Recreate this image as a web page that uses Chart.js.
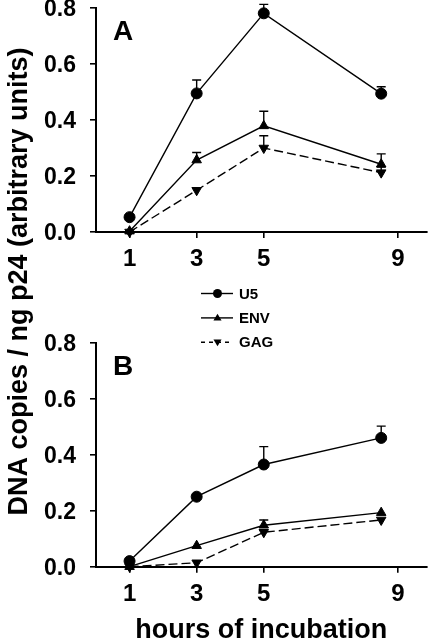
<!DOCTYPE html>
<html><head><meta charset="utf-8">
<script src="https://cdn.jsdelivr.net/npm/chart.js@4.4.1/dist/chart.umd.min.js"></script>
<style>
html,body{margin:0;padding:0;background:#fff;}
#wrap{position:relative;width:433px;height:643px;overflow:hidden;}
canvas{position:absolute;left:0;top:0;}
</style></head><body>
<div id="wrap"><canvas id="cA" width="433" height="643"></canvas><canvas id="cB" width="433" height="643"></canvas></div>
<script>
// ---- data ----
const hours = [1, 3, 5, 8.5];
const xTickValues = [1, 3, 5, 9];
const yTickValues = [0, 0.2, 0.4, 0.6, 0.8];
const seriesNames = ['U5', 'ENV', 'GAG'];
const yAxisTitle = 'DNA copies / ng p24 (arbitrary units)';
const xAxisTitle = 'hours of incubation';

const panelA_U5  = [0.053, 0.495, 0.781, 0.494];
const panelA_ENV = [0.003, 0.257, 0.379, 0.242];
const panelA_GAG = [0.000, 0.149, 0.300, 0.212];
const panelA_U5_err  = [0, 0.048, 0.032, 0.025];
const panelA_ENV_err = [0, 0.027, 0.052, 0.037];
const panelA_GAG_err = [0, 0, 0.044, 0.02];

const panelB_U5  = [0.020, 0.250, 0.365, 0.460];
const panelB_ENV = [0.000, 0.075, 0.148, 0.193];
const panelB_GAG = [0.000, 0.014, 0.123, 0.167];
const panelB_U5_err  = [0, 0, 0.064, 0.042];
const panelB_ENV_err = [0, 0, 0.019, 0];
const panelB_GAG_err = [0, 0, 0, 0];

// ---- styles ----
const FONT = "'Liberation Sans', Arial, Helvetica, sans-serif";
const styles = {
  U5:  {pointStyle: 'circle',   rotation: 0,   radius: 5.5, dash: []},
  ENV: {pointStyle: 'triangle', rotation: 0,   radius: 5.5, dash: []},
  GAG: {pointStyle: 'triangle', rotation: 180, radius: 5.5, dash: [9, 4]}
};

function makeDatasets(values, errs) {
  return seriesNames.map((name, k) => ({
    label: name,
    data: hours.map((h, i) => ({x: h, y: values[k][i]})),
    errors: errs[k],
    borderColor: '#000',
    backgroundColor: '#000',
    borderWidth: 1.4,
    borderDash: styles[name].dash,
    pointStyle: styles[name].pointStyle,
    pointRotation: styles[name].rotation,
    pointRadius: styles[name].radius,
    pointBorderWidth: 1,
    pointBackgroundColor: '#000',
    pointBorderColor: '#000',
    tension: 0,
    fill: false,
    clip: false
  }));
}

const errorBarPlugin = {
  id: 'errorBars',
  beforeDatasetsDraw(chart) {
    const ctx = chart.ctx;
    const xs = chart.scales.x, ys = chart.scales.y;
    ctx.save();
    ctx.strokeStyle = '#000';
    ctx.lineWidth = 1.4;
    chart.data.datasets.forEach(ds => {
      ds.data.forEach((p, i) => {
        const e = ds.errors[i];
        if (!e) return;
        const px = xs.getPixelForValue(p.x);
        const py = ys.getPixelForValue(p.y);
        const pt = ys.getPixelForValue(p.y + e);
        ctx.beginPath();
        ctx.moveTo(px, py); ctx.lineTo(px, pt);
        ctx.moveTo(px - 4.5, pt); ctx.lineTo(px + 4.5, pt);
        ctx.stroke();
      });
    });
    ctx.restore();
  }
};

const panelLabelPlugin = {
  id: 'panelLabel',
  afterDraw(chart, args, opts) {
    const ctx = chart.ctx, a = chart.chartArea;
    ctx.save();
    ctx.fillStyle = '#000';
    ctx.font = 'bold 28px ' + FONT;
    ctx.textAlign = 'center';
    ctx.textBaseline = 'alphabetic';
    ctx.fillText(opts.text, a.left + 27, a.top + 32);
    ctx.restore();
  }
};

function drawMarker(ctx, style, x, y, r) {
  ctx.beginPath();
  if (style.pointStyle === 'circle') {
    ctx.arc(x, y, r, 0, Math.PI * 2);
  } else {
    const dir = style.rotation === 180 ? -1 : 1;
    const h = r * 1.5;
    ctx.moveTo(x, y - dir * h * 0.6);
    ctx.lineTo(x - r * 0.9, y + dir * h * 0.4);
    ctx.lineTo(x + r * 0.9, y + dir * h * 0.4);
    ctx.closePath();
  }
  ctx.fill();
}

const legendPlugin = {
  id: 'seriesLegend',
  afterDraw(chart, args, opts) {
    if (!opts.show) return;
    const ctx = chart.ctx;
    const a = chart.chartArea;
    ctx.save();
    ctx.fillStyle = '#000';
    ctx.strokeStyle = '#000';
    ctx.lineWidth = 1.4;
    ctx.font = 'bold 15px ' + FONT;
    ctx.textBaseline = 'middle';
    ctx.textAlign = 'left';
    const x0 = 201, x1 = 233, xm = 217.5;
    seriesNames.forEach((name, k) => {
      const y = a.bottom + 61.5 + k * 24.4;
      const st = styles[name];
      ctx.setLineDash(name === 'GAG' ? [4, 4] : []);
      ctx.beginPath(); ctx.moveTo(x0, y); ctx.lineTo(x1, y); ctx.stroke();
      ctx.setLineDash([]);
      drawMarker(ctx, st, xm, y, 4.5);
      ctx.fillText(name, 239, y + 1);
    });
    ctx.restore();
  }
};

const yTitlePlugin = {
  id: 'yTitle',
  afterDraw(chart, args, opts) {
    if (!opts.show) return;
    const ctx = chart.ctx;
    ctx.save();
    ctx.fillStyle = '#000';
    ctx.font = 'bold 27px ' + FONT;
    ctx.textAlign = 'center';
    ctx.textBaseline = 'alphabetic';
    ctx.translate(27, 281.5);
    ctx.rotate(-Math.PI / 2);
    ctx.fillText(yAxisTitle, 0, 0);
    ctx.restore();
  }
};

function makeScales(xHeight, showXTitle) {
  return {
    x: {
      type: 'linear', min: 0, max: 9.85,
      afterBuildTicks: s => { s.ticks = xTickValues.map(v => ({value: v})); },
      grid: {drawOnChartArea: false, drawTicks: true, tickLength: 6, color: '#000', lineWidth: 1.6},
      border: {display: true, color: '#000', width: 2},
      ticks: {color: '#000', font: {family: FONT, size: 24, weight: 'bold'}, padding: 7,
              maxRotation: 0, autoSkip: false, callback: v => String(v)},
      title: {display: showXTitle, text: xAxisTitle, color: '#000',
              font: {family: FONT, size: 27, weight: 'bold', lineHeight: 0.9}, padding: 0},
      afterFit: s => { s.height = xHeight; s.paddingLeft = 0; s.paddingRight = 0; }
    },
    y: {
      type: 'linear', min: 0, max: 0.8,
      afterBuildTicks: s => { s.ticks = yTickValues.map(v => ({value: v})); },
      grid: {drawOnChartArea: false, drawTicks: true, tickLength: 6, color: '#000', lineWidth: 1.6},
      border: {display: true, color: '#000', width: 2},
      ticks: {color: '#000', font: {family: FONT, size: 23, weight: 'bold'}, padding: 14, labelOffset: 1.5,
              callback: v => Number(v).toFixed(1)},
      afterFit: s => { s.width = 96; s.paddingTop = 0; s.paddingBottom = 0; }
    }
  };
}

function makeChart(id, values, errs, label, pad, xHeight, showXTitle, showLegend, showYTitle) {
  return new Chart(document.getElementById(id), {
    type: 'line',
    data: {datasets: makeDatasets(values, errs)},
    options: {
      responsive: false, animation: false, devicePixelRatio: 1, events: [],
      layout: {padding: pad},
      scales: makeScales(xHeight, showXTitle),
      plugins: {
        legend: {display: false}, tooltip: {enabled: false}, title: {display: false},
        panelLabel: {text: label},
        seriesLegend: {show: showLegend},
        yTitle: {show: showYTitle}
      }
    },
    plugins: [errorBarPlugin, panelLabelPlugin, legendPlugin, yTitlePlugin]
  });
}

makeChart('cA', [panelA_U5, panelA_ENV, panelA_GAG], [panelA_U5_err, panelA_ENV_err, panelA_GAG_err],
  'A', {left: 0, top: 8, right: 5, bottom: 643 - 232 - 45}, 45, false, true, true);
makeChart('cB', [panelB_U5, panelB_ENV, panelB_GAG], [panelB_U5_err, panelB_ENV_err, panelB_GAG_err],
  'B', {left: 0, top: 342.7, right: 5, bottom: 0}, 643 - 566.7, true, false, false);
</script>
</body></html>
